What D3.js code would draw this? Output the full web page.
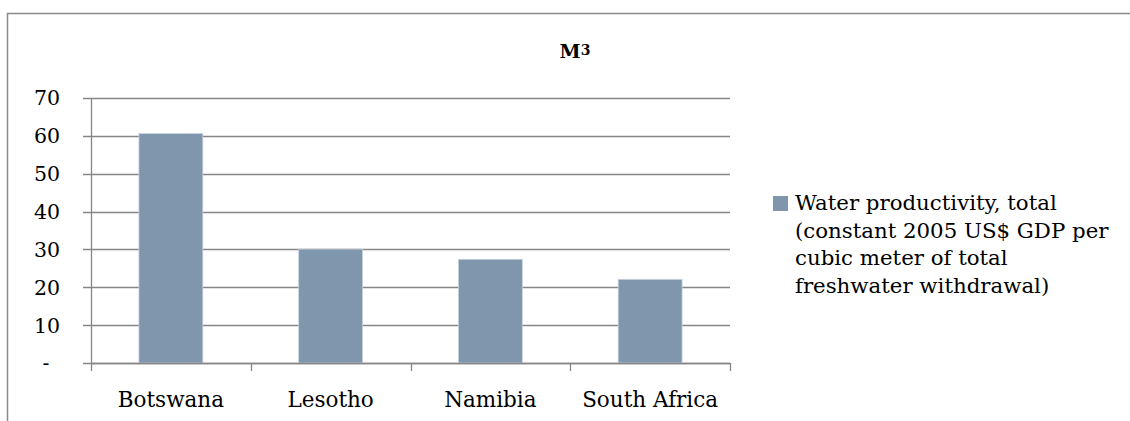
<!DOCTYPE html>
<html>
<head>
<meta charset="utf-8">
<script src="https://cdn.jsdelivr.net/npm/d3@7/dist/d3.min.js"></script>
<style>
  html, body { margin: 0; padding: 0; background: #fff; }
  svg { display: block; }
  text { font-family: "DejaVu Serif", serif; fill: #000; }
</style>
</head>
<body>
<svg id="chart" width="1130" height="421"></svg>
<script>
// Water productivity by country
const categories = ["Botswana", "Lesotho", "Namibia", "South Africa"];
const values = [60.6, 30.1, 27.4, 22.1];
const yTicks = [0, 10, 20, 30, 40, 50, 60, 70];
const yTickLabels = ["-", "10", "20", "30", "40", "50", "60", "70"];
const legendLines = [
  "Water productivity, total",
  "(constant 2005 US$ GDP per",
  "cubic meter of total",
  "freshwater withdrawal)"
];
const titleText = "M";
const titleSup = "3";

const svg = d3.select("#chart");
const gridColor = "#868686";
const barColor = "#7f96ad";

// chart frame (extends past the right and bottom edges)
svg.append("rect")
  .attr("x", 7.5).attr("y", 13.5)
  .attr("width", 1140).attr("height", 420)
  .attr("fill", "none").attr("stroke", "#8a8a8a").attr("stroke-width", 1.5);

const plot = { left: 91, right: 730, top: 98, bottom: 363 };

const x = d3.scaleBand()
  .domain(categories)
  .range([plot.left, plot.right])
  .paddingInner(0.6)
  .paddingOuter(0.3);

const y = d3.scaleLinear()
  .domain([0, 70])
  .range([plot.bottom, plot.top]);

// horizontal gridlines
svg.append("g")
  .selectAll("line")
  .data(yTicks)
  .join("line")
  .attr("x1", plot.left - 8).attr("x2", plot.right)
  .attr("y1", d => Math.round(y(d)) + 0.5)
  .attr("y2", d => Math.round(y(d)) + 0.5)
  .attr("stroke", gridColor).attr("stroke-width", 1.3);

// y tick labels
svg.append("g")
  .selectAll("text")
  .data(yTicks)
  .join("text")
  .attr("x", (d, i) => i === 0 ? 49.5 : 60)
  .attr("y", d => y(d))
  .attr("dy", "0.36em")
  .attr("text-anchor", "end")
  .style("font-size", "20.5px")
  .text((d, i) => yTickLabels[i]);

// bars
svg.append("g")
  .selectAll("rect")
  .data(values)
  .join("rect")
  .attr("x", (d, i) => x(categories[i]))
  .attr("y", d => y(d))
  .attr("width", x.bandwidth())
  .attr("height", d => y(0) - y(d))
  .attr("fill", barColor)
  .attr("stroke", "#c9d3de")
  .attr("stroke-width", 0.8);

// y axis line
svg.append("line")
  .attr("x1", plot.left + 0.5).attr("x2", plot.left + 0.5)
  .attr("y1", plot.top).attr("y2", plot.bottom)
  .attr("stroke", gridColor).attr("stroke-width", 1.3);

// x axis line and category boundary ticks
svg.append("line")
  .attr("x1", plot.left).attr("x2", plot.right)
  .attr("y1", Math.round(y(0)) + 0.5).attr("y2", Math.round(y(0)) + 0.5)
  .attr("stroke", gridColor).attr("stroke-width", 1.3);

const step = x.step();
const boundaries = d3.range(categories.length + 1).map(i => plot.left + i * step);
svg.append("g")
  .selectAll("line")
  .data(boundaries)
  .join("line")
  .attr("x1", d => Math.round(d) + 0.5).attr("x2", d => Math.round(d) + 0.5)
  .attr("y1", y(0)).attr("y2", y(0) + 8)
  .attr("stroke", gridColor).attr("stroke-width", 1.3);

// category labels
svg.append("g")
  .selectAll("text")
  .data(categories)
  .join("text")
  .attr("x", d => x(d) + x.bandwidth() / 2)
  .attr("y", 407)
  .attr("text-anchor", "middle")
  .style("font-size", "21.5px")
  .text(d => d);

// title
const title = svg.append("text")
  .attr("x", 575).attr("y", 57.5)
  .attr("text-anchor", "middle")
  .style("font-size", "19px")
  .style("font-weight", "bold");
title.append("tspan").text(titleText);
title.append("tspan")
  .attr("dy", "-3")
  .style("font-size", "14px")
  .text(titleSup);

// legend
const legend = svg.append("g");
legend.append("rect")
  .attr("x", 773).attr("y", 196)
  .attr("width", 15).attr("height", 15)
  .attr("fill", barColor);
legend.append("g")
  .selectAll("text")
  .data(legendLines)
  .join("text")
  .attr("x", 795)
  .attr("y", (d, i) => 210 + i * 27.6)
  .style("font-size", "21.3px")
  .text(d => d);
</script>
</body>
</html>
